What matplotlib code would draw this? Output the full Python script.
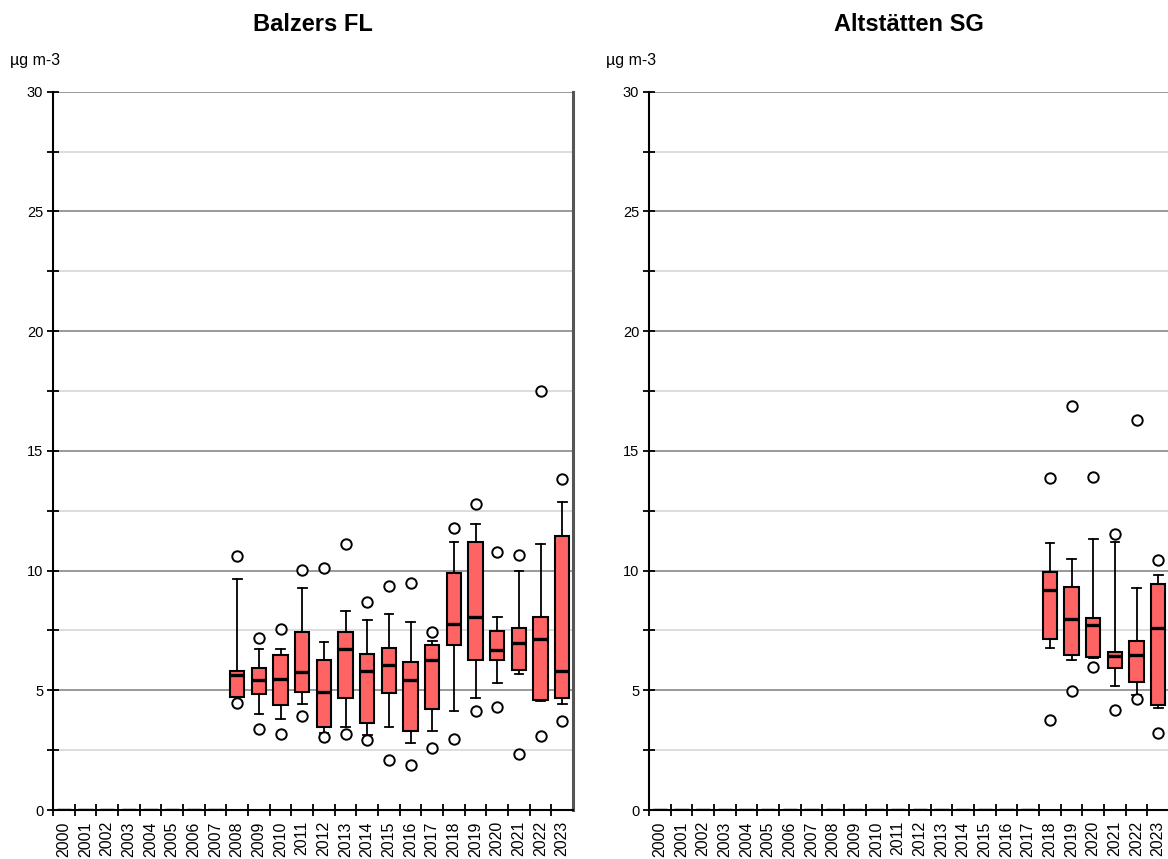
import matplotlib
matplotlib.use("Agg")
import matplotlib.pyplot as plt
from matplotlib.ticker import MultipleLocator

plt.rcParams["font.family"] = ["Liberation Sans", "DejaVu Sans"]

years = [str(y) for y in range(2000, 2024)]

# Balzers FL: per-year box statistics (whislo, q1, med, q3, whishi) and outliers
balzers_years = [str(y) for y in range(2008, 2024)]
balzers_whislo = [4.71, 4.01, 3.79, 4.44, 3.20, 3.45, 3.13, 3.48, 2.81, 3.31, 4.14, 4.69, 5.30, 5.69, 4.55, 4.43]
balzers_q1 = [4.71, 4.83, 4.37, 4.94, 3.45, 4.68, 3.62, 4.89, 3.29, 4.23, 6.89, 6.25, 6.27, 5.83, 4.61, 4.67]
balzers_med = [5.64, 5.44, 5.47, 5.75, 4.92, 6.73, 5.82, 6.06, 5.43, 6.25, 7.77, 8.08, 6.67, 6.99, 7.16, 5.79]
balzers_q3 = [5.81, 5.94, 6.46, 7.42, 6.28, 7.44, 6.53, 6.75, 6.18, 6.89, 9.89, 11.19, 7.48, 7.60, 8.05, 11.46]
balzers_whishi = [9.66, 6.73, 6.73, 9.27, 7.02, 8.31, 7.94, 8.19, 7.87, 7.06, 11.18, 11.96, 8.06, 9.98, 11.12, 12.87]
balzers_fliers = [[10.61, 4.48], [7.20, 3.37], [7.56, 3.19], [10.01, 3.91], [10.12, 3.06],
                  [11.11, 3.19], [8.69, 2.92], [9.34, 2.08], [9.49, 1.89], [7.45, 2.59],
                  [11.79, 2.98], [12.77, 4.15], [10.79, 4.30], [10.66, 2.33], [17.51, 3.08],
                  [13.84, 3.70]]

# Altstätten SG
alt_years = [str(y) for y in range(2018, 2024)]
alt_whislo = [6.78, 6.27, 6.36, 5.19, 4.80, 4.26]
alt_q1 = [7.16, 6.49, 6.40, 5.93, 5.36, 4.40]
alt_med = [9.18, 7.99, 7.71, 6.42, 6.49, 7.60]
alt_q3 = [9.93, 9.31, 8.03, 6.61, 7.05, 9.44]
alt_whishi = [11.14, 10.47, 11.33, 11.18, 9.27, 9.83]
alt_fliers = [[13.87, 3.76], [16.88, 4.98], [13.92, 5.97], [11.53, 4.16], [16.29, 4.62], [10.44, 3.20]]

BOX_COLOR = "#ff6464"


def build_stats(sel_years, whislo, q1, med, q3, whishi, fliers):
    stats = []
    for y in years:
        if y in sel_years:
            i = sel_years.index(y)
            stats.append(dict(whislo=whislo[i], q1=q1[i], med=med[i], q3=q3[i],
                              whishi=whishi[i], fliers=fliers[i]))
        else:
            # years without measurements collapse to a flat box at zero
            stats.append(dict(whislo=0, q1=0, med=0, q3=0, whishi=0, fliers=[]))
    return stats


def draw_panel(ax, title, stats):
    positions = list(range(len(years)))
    ax.bxp(stats, positions=positions, widths=0.66, patch_artist=True,
           showfliers=True,
           boxprops=dict(facecolor=BOX_COLOR, edgecolor="black", linewidth=1.5),
           medianprops=dict(color="black", linewidth=2.4),
           whiskerprops=dict(color="black", linewidth=1.3),
           capprops=dict(color="black", linewidth=1.3),
           capwidths=0.4,
           flierprops=dict(marker="o", markerfacecolor="white", markeredgecolor="black",
                           markersize=7.5, markeredgewidth=1.4))
    ax.set_xlim(-0.5, len(years) - 0.5)
    ax.set_ylim(0, 30)
    ax.yaxis.set_major_locator(MultipleLocator(5))
    ax.yaxis.set_minor_locator(MultipleLocator(2.5))
    ax.grid(True, which="major", axis="y", color="#999999", linewidth=1.4, zorder=0)
    ax.grid(True, which="minor", axis="y", color="#dddddd", linewidth=1.4, zorder=0)
    ax.set_axisbelow(True)

    # category labels centred, ticks on the category boundaries
    ax.set_xticks(positions)
    ax.set_xticklabels(years, rotation=90, fontsize=11.5)
    ax.tick_params(axis="x", which="major", length=0, pad=8)
    ax.set_xticks([p + 0.5 for p in positions[:-1]] + [-0.5], minor=True)
    ax.tick_params(axis="x", which="minor", direction="inout", length=9, width=1.3)
    ax.tick_params(axis="y", which="both", direction="inout", length=8, width=1.3,
                   labelsize=10.5, pad=3)

    ax.spines["top"].set_visible(False)
    ax.spines["left"].set_linewidth(1.5)
    ax.spines["bottom"].set_linewidth(1.5)
    ax.spines["right"].set_linewidth(2.2)
    ax.spines["right"].set_color("#555555")

    ax.text(0.5, 1.085, title, transform=ax.transAxes, fontsize=17,
            fontweight="bold", ha="center", va="baseline")
    ax.text(-0.082, 1.0376, "µg m-3", transform=ax.transAxes, fontsize=11.5,
            ha="left", va="baseline")


fig = plt.figure(figsize=(11.68, 8.59), dpi=100)
ax1 = fig.add_axes([0.0454, 0.0570, 0.4452, 0.8363])
ax2 = fig.add_axes([0.5557, 0.0570, 0.4452, 0.8363])

draw_panel(ax1, "Balzers FL",
           build_stats(balzers_years, balzers_whislo, balzers_q1, balzers_med,
                       balzers_q3, balzers_whishi, balzers_fliers))
draw_panel(ax2, "Altstätten SG",
           build_stats(alt_years, alt_whislo, alt_q1, alt_med,
                       alt_q3, alt_whishi, alt_fliers))

fig.savefig("out.png", dpi=100)
